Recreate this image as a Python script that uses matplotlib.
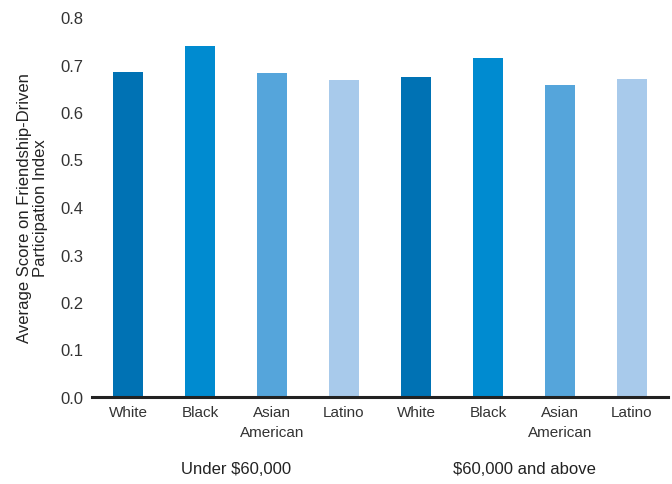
#!/usr/bin/env python
# -*- coding: utf-8 -*-
"""Average friendship-driven participation score by race and income."""

import matplotlib
matplotlib.use('Agg')
import matplotlib.pyplot as plt
import numpy as np

races = ['White', 'Black', 'Asian\nAmerican', 'Latino']
groups = ['Under $60,000', '$60,000 and above']
scores_under = [0.684, 0.739, 0.682, 0.667]
scores_above = [0.674, 0.714, 0.657, 0.669]
colors = ['#0072B4', '#008BD0', '#55A5DB', '#A8CAEB']

yticks = [0.0, 0.1, 0.2, 0.3, 0.4, 0.5, 0.6, 0.7, 0.8]


def main():
  matplotlib.rc('font', **{'family': 'sans-serif',
                           'sans-serif': ['Liberation Sans', 'DejaVu Sans']})

  fig = plt.figure(figsize=(6.72, 4.85), dpi=100)
  ax = fig.add_axes([92/672., 1 - 398/485., (668-92)/672., (398-18)/485.])

  values = scores_under + scores_above
  labels = races + races
  x = np.arange(len(values))
  ax.bar(x, values, width=0.42, color=colors + colors, zorder=2)

  # Axes styling.
  for side in ('top', 'right', 'left'):
    ax.spines[side].set_visible(False)
  ax.spines['bottom'].set_linewidth(2.2)
  ax.spines['bottom'].set_color('#222222')
  ax.set_xlim(-0.5, 7.5)
  ax.set_ylim(0, 0.8)
  ax.set_yticks(yticks)
  ax.set_yticklabels(['%.1f' % t for t in yticks])
  ax.tick_params(axis='y', length=0, pad=6, labelsize=12, labelcolor='#333333')
  ax.set_xticks(x)
  ax.set_xticklabels(labels, fontsize=11, color='#333333', linespacing=1.5,
                     family=['Liberation Sans Narrow', 'Liberation Sans'])
  ax.tick_params(axis='x', length=0, pad=6)

  ax.set_ylabel('Average Score on Friendship-Driven\nParticipation Index',
                fontsize=12, color='#222222', labelpad=9, linespacing=1.1)

  # Group labels under the race labels.
  for gi, name in enumerate(groups):
    xc = gi * 4 + 1.5
    ax.text(xc, -72/380., name, ha='center', va='center', fontsize=12,
            color='#222222', transform=ax.get_xaxis_transform(),
            clip_on=False)

  fig.savefig('out.png', dpi=100)
  plt.close(fig)


if __name__ == '__main__':
  main()
